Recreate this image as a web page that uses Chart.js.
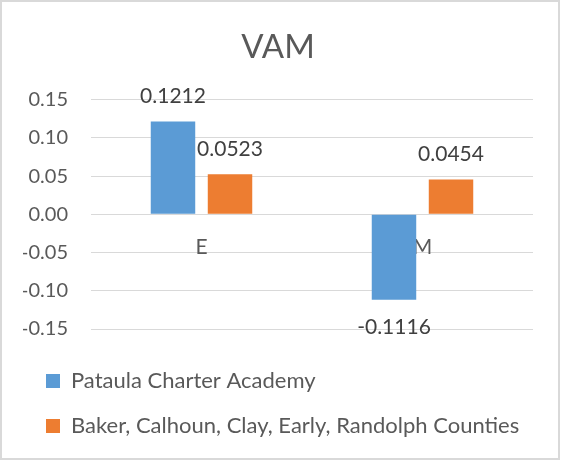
<!DOCTYPE html>
<html>
<head>
<meta charset="utf-8">
<script src="https://cdn.jsdelivr.net/npm/chart.js@4.4.0/dist/chart.umd.min.js"></script>
<style>
  html, body { margin: 0; padding: 0; background: #fff; }
  #wrap { width: 562px; height: 462px; position: relative; }
</style>
</head>
<body>
<div id="wrap"><canvas id="vamChart"></canvas></div>
<script>
const categories = ['E', 'M'];
const seriesNames = ['Pataula Charter Academy', 'Baker, Calhoun, Clay, Early, Randolph Counties'];
const pataulaValues = [0.1212, -0.1116];
const countiesValues = [0.0523, 0.0454];
const yTickValues = [-0.15, -0.10, -0.05, 0, 0.05, 0.10, 0.15];

const textColor = '#595959';
const fontFamily = 'Lato';

// white background + thin grey frame like the excel chart box
const framePlugin = {
  id: 'frame',
  beforeDraw(chart) {
    const ctx = chart.ctx;
    ctx.save();
    ctx.fillStyle = '#fff';
    ctx.fillRect(0, 0, chart.width, chart.height);
    ctx.restore();
  },
  afterDraw(chart) {
    const ctx = chart.ctx;
    ctx.save();
    ctx.strokeStyle = '#d9d9d9';
    ctx.lineWidth = 2;
    ctx.strokeRect(1, 1, chart.width - 4, chart.height - 4);
    ctx.restore();
  }
};

// value labels above / below each bar
const valueLabels = {
  id: 'valueLabels',
  afterDatasetsDraw(chart) {
    const ctx = chart.ctx;
    ctx.save();
    ctx.font = '21px ' + fontFamily;
    ctx.fillStyle = '#404040';
    ctx.textAlign = 'center';
    ctx.textBaseline = 'middle';
    chart.data.datasets.forEach((ds, i) => {
      chart.getDatasetMeta(i).data.forEach((bar, j) => {
        const v = ds.data[j];
        const y = v >= 0 ? bar.y - 25 : bar.y + 28;
        ctx.fillText(v.toFixed(4), bar.x, y);
      });
    });
    ctx.restore();
  }
};

const ctx = document.getElementById('vamChart').getContext('2d');

new Chart(ctx, {
  type: 'bar',
  data: {
    labels: categories,
    datasets: [
      {
        label: seriesNames[0],
        data: pataulaValues,
        backgroundColor: '#5B9BD5',
        borderColor: '#5B9BD5',
        borderWidth: 0,
        categoryPercentage: 0.516,
        barPercentage: 0.78
      },
      {
        label: seriesNames[1],
        data: countiesValues,
        backgroundColor: '#ED7D31',
        borderColor: '#ED7D31',
        borderWidth: 0,
        categoryPercentage: 0.516,
        barPercentage: 0.78
      }
    ]
  },
  options: {
    responsive: true,
    maintainAspectRatio: false,
    animation: false,
    layout: {
      padding: { left: 23, right: 29, top: 0, bottom: 15 }
    },
    plugins: {
      title: {
        display: true,
        text: 'VAM',
        color: textColor,
        font: { family: fontFamily, size: 33, weight: 'normal' },
        padding: { top: 28, bottom: 32 }
      },
      legend: {
        position: 'bottom',
        align: 'start',
        title: {
          display: true,
          text: '',
          font: { size: 18, lineHeight: 1 },
          padding: 0
        },
        labels: {
          boxWidth: 14,
          boxHeight: 14,
          padding: 23,
          color: textColor,
          font: { family: fontFamily, size: 22 }
        }
      },
      tooltip: { enabled: false }
    },
    scales: {
      x: {
        position: { y: 0 },
        z: 1,
        grid: { display: false },
        border: { display: false },
        ticks: {
          color: textColor,
          font: { family: fontFamily, size: 21 },
          padding: 12
        }
      },
      y: {
        min: -0.15,
        max: 0.15,
        afterBuildTicks: scale => {
          scale.ticks = yTickValues.map(v => ({ value: v }));
        },
        afterFit: scale => {
          scale.width = 68;
        },
        grid: { color: '#d9d9d9', drawTicks: false },
        border: { display: false },
        ticks: {
          color: textColor,
          font: { family: fontFamily, size: 20 },
          padding: 23,
          callback: value => Number(value).toFixed(2)
        }
      }
    }
  },
  plugins: [framePlugin, valueLabels]
});
</script>
</body>
</html>
